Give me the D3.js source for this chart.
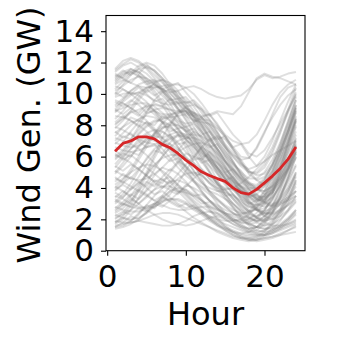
<!DOCTYPE html>
<html>
<head>
<meta charset="utf-8">
<script src="https://cdn.jsdelivr.net/npm/d3@7"></script>
<style>
  body { margin: 0; background: #fff; }
  text { font-family: "DejaVu Sans", sans-serif; fill: #000; }
</style>
</head>
<body>
<div id="chart"></div>
<script>
// Hours of the day (x values)
const hours = d3.range(1, 25);

// Mean profile (red line), GW
const meanGen = [6.35, 6.84, 7.0, 7.26, 7.26, 7.13, 6.78, 6.56, 6.2, 5.78, 5.42, 5.03,
  4.8, 4.6, 4.42, 4.01, 3.7, 3.61, 3.91, 4.33, 4.76, 5.25, 5.84, 6.62];

// Individual daily profiles (gray lines), GW
const dailyGen = [
  [11.5,11.9,12.2,12.0,11.6,11.0,10.4,9.8,9.1,8.4,7.6,6.9,6.1,5.3,4.6,3.9,3.3,3.0,3.2,3.8,4.7,5.8,7.0,8.3],
  [10.8,11.2,11.5,11.4,11.0,10.6,10.3,10.1,10.2,10.4,10.5,10.3,10.0,9.8,9.7,9.8,9.9,10.3,10.9,11.2,11.0,11.1,11.3,11.4],
  [2.0,2.4,3.1,4.0,5.0,6.1,7.2,8.1,8.8,9.2,9.3,9.0,8.4,7.6,6.7,5.7,4.8,4.0,3.4,3.1,3.0,3.1,3.4,3.8],
  [1.6,1.7,1.8,1.9,1.8,1.7,1.6,1.6,1.7,1.9,2.2,2.4,2.5,2.4,2.2,1.9,1.6,1.4,1.5,1.8,2.4,3.3,4.6,6.0],
  [9.0,9.6,10.2,10.6,10.8,10.6,10.1,9.4,8.5,7.6,6.7,5.8,5.0,4.3,3.6,3.0,2.5,2.1,1.9,1.9,2.1,2.6,3.3,4.1],
  [7.2,7.0,6.8,6.5,6.1,5.6,5.0,4.4,3.8,3.3,2.8,2.4,2.0,1.7,1.4,1.2,1.0,0.9,0.9,1.0,1.2,1.4,1.6,1.8],
  [3.5,3.3,3.0,2.8,2.7,2.8,3.1,3.6,4.3,5.1,5.9,6.6,7.1,7.3,7.1,6.5,5.7,4.9,4.5,4.7,5.4,6.5,7.8,9.2],
  [10.2,10.5,10.9,11.1,11.0,10.7,10.2,9.6,9.0,8.6,8.3,8.2,8.1,7.8,7.3,6.6,6.0,5.9,6.6,7.6,8.5,9.3,9.9,10.3],
  [5.5,6.1,6.8,7.5,8.0,8.3,8.3,8.0,7.4,6.6,5.6,4.6,3.7,3.0,2.4,2.0,1.8,1.8,2.1,2.6,3.3,4.2,5.2,6.3],
  [8.1,8.4,8.8,9.0,9.2,9.3,9.2,9.0,8.6,8.0,7.3,6.5,5.8,5.3,4.9,4.5,4.1,3.7,3.3,3.4,3.9,4.7,5.7,6.9],
  [1.8,2.2,2.9,3.8,4.8,5.9,6.8,7.4,7.6,7.4,6.8,6.0,5.1,4.2,3.4,2.7,2.2,1.8,1.5,1.4,1.4,1.5,1.7,2.0],
  [11.0,11.4,11.6,11.4,10.9,10.2,9.5,8.8,8.3,8.1,8.2,8.4,8.3,7.9,7.2,6.4,5.6,5.0,4.9,5.3,6.2,7.5,9.0,10.4],
  [4.2,4.6,5.0,5.3,5.5,5.4,5.1,4.7,4.2,3.7,3.2,2.8,2.5,2.3,2.1,1.9,1.6,1.3,1.1,1.0,1.1,1.3,1.5,1.7],
  [6.3,6.9,7.6,8.2,8.7,9.0,9.1,9.0,8.9,8.8,8.7,8.5,8.0,7.3,6.5,5.7,4.9,4.3,3.9,3.8,4.1,4.6,5.2,5.9],
  [2.8,2.6,2.5,2.5,2.7,3.0,3.5,4.1,4.6,4.9,5.0,4.8,4.4,3.9,3.3,2.8,2.3,2.0,2.0,2.5,3.6,5.1,6.9,8.6],
  [9.8,10.0,10.1,9.9,9.5,8.9,8.2,7.4,6.6,5.8,5.1,4.4,3.8,3.3,2.8,2.4,2.0,1.7,1.5,1.4,1.5,1.7,2.1,2.6],
  [7.8,8.3,8.9,9.6,10.2,10.7,10.9,10.7,10.2,9.4,8.5,7.6,6.8,6.2,5.7,5.2,4.7,4.3,4.2,4.6,5.5,6.7,8.1,9.6],
  [3.1,3.6,4.3,5.1,5.9,6.5,6.8,6.8,6.5,6.0,5.4,4.8,4.3,4.0,3.9,4.0,4.3,4.7,5.2,5.7,6.1,6.4,6.7,7.0],
  [1.5,1.6,1.9,2.3,2.9,3.5,4.0,4.4,4.5,4.3,3.9,3.3,2.7,2.1,1.6,1.2,0.9,0.8,0.7,0.8,0.9,1.1,1.3,1.5],
  [10.5,10.3,10.0,9.6,9.2,8.9,8.7,8.7,8.8,8.9,8.8,8.5,8.0,7.3,6.6,6.1,5.8,5.9,6.5,7.5,8.7,9.8,10.4,10.6],
  [4.9,5.4,6.0,6.6,7.1,7.3,7.2,6.8,6.1,5.3,4.5,3.8,3.2,2.7,2.3,2.0,1.9,2.0,2.4,3.1,4.0,5.1,6.3,7.6],
  [8.6,8.5,8.3,8.0,7.6,7.1,6.5,5.9,5.3,4.8,4.4,4.0,3.6,3.2,2.8,2.4,2.1,1.9,1.9,2.2,2.7,3.4,4.3,5.4],
  [6.0,6.4,7.1,7.9,8.8,9.6,10.1,10.3,10.1,9.6,8.9,8.1,7.3,6.5,5.7,5.0,4.3,3.7,3.3,3.0,2.9,3.0,3.2,3.5],
  [2.3,2.1,2.0,2.1,2.4,2.9,3.4,3.8,4.0,3.9,3.6,3.2,2.9,2.6,2.4,2.3,2.3,2.5,3.0,3.8,4.9,6.2,7.6,9.1],
  [11.6,12.1,12.3,12.1,11.7,11.2,10.7,10.2,9.8,9.3,8.7,8.0,7.3,6.5,5.7,4.9,4.1,3.5,3.2,3.3,3.8,4.6,5.6,6.7],
  [5.1,4.8,4.6,4.5,4.6,4.9,5.3,5.8,6.3,6.6,6.8,6.9,6.7,6.2,5.5,4.7,3.9,3.3,3.1,3.5,4.4,5.6,7.0,8.4],
  [7.5,7.9,8.2,8.3,8.1,7.6,7.0,6.3,5.6,5.0,4.5,4.1,3.8,3.6,3.3,3.0,2.6,2.3,2.2,2.4,2.9,3.6,4.5,5.5],
  [1.9,1.8,1.8,1.9,2.1,2.3,2.4,2.4,2.3,2.1,1.9,1.7,1.5,1.3,1.1,0.9,0.8,0.7,0.7,0.8,0.9,1.0,1.1,1.2],
  [9.3,9.7,10.0,10.1,9.9,9.6,9.4,9.3,9.4,9.5,9.4,9.0,8.3,7.5,6.7,6.0,5.4,5.0,5.0,5.5,6.4,7.6,8.8,10.0],
  [3.8,4.3,5.0,5.8,6.6,7.4,8.1,8.6,8.9,8.9,8.6,8.0,7.2,6.3,5.4,4.5,3.7,3.0,2.6,2.4,2.4,2.6,2.9,3.3],
  [6.6,6.4,6.3,6.4,6.6,6.7,6.7,6.5,6.0,5.4,4.8,4.3,4.0,3.8,3.7,3.5,3.2,2.8,2.6,2.7,3.2,4.1,5.3,6.7],
  [10.9,11.3,11.4,11.2,10.7,10.0,9.3,8.5,7.8,7.1,6.4,5.7,5.0,4.3,3.6,3.0,2.5,2.1,1.9,2.0,2.4,3.0,3.8,4.8],
  [2.5,2.9,3.5,4.2,4.9,5.5,5.9,6.1,6.1,5.9,5.6,5.2,4.8,4.3,3.8,3.3,2.8,2.4,2.1,2.0,2.2,2.7,3.5,4.5],
  [8.4,8.9,9.5,10.0,10.4,10.5,10.3,9.8,9.1,8.3,7.5,6.7,6.0,5.3,4.6,4.0,3.4,2.9,2.6,2.5,2.7,3.2,4.0,5.0],
  [4.6,4.4,4.1,3.8,3.5,3.2,2.9,2.7,2.6,2.6,2.7,2.8,2.8,2.6,2.3,1.9,1.5,1.2,1.1,1.3,1.8,2.6,3.7,5.0],
  [5.8,6.3,6.9,7.4,7.9,8.2,8.4,8.5,8.6,8.7,8.6,8.3,7.7,7.0,6.3,5.6,5.0,4.6,4.6,5.0,5.8,6.9,8.2,9.6],
  [9.6,9.4,9.1,8.7,8.3,7.8,7.2,6.5,5.8,5.1,4.4,3.8,3.2,2.7,2.3,2.0,1.8,1.7,1.8,2.2,2.9,3.9,5.1,6.5],
  [1.7,2.0,2.6,3.4,4.3,5.2,6.0,6.6,7.0,7.2,7.2,7.0,6.5,5.8,5.0,4.1,3.3,2.6,2.1,1.8,1.6,1.6,1.7,1.9],
  [7.0,7.5,8.0,8.4,8.6,8.5,8.2,7.8,7.5,7.4,7.4,7.3,7.0,6.5,5.9,5.2,4.6,4.1,3.9,4.1,4.8,5.9,7.3,8.9],
  [3.3,3.0,2.8,2.7,2.8,3.0,3.2,3.3,3.2,3.0,2.7,2.4,2.1,1.8,1.5,1.3,1.1,1.0,1.0,1.1,1.3,1.6,2.0,2.5],
  [10.0,10.6,11.2,11.6,11.7,11.5,11.0,10.4,9.7,9.1,8.6,8.1,7.6,7.0,6.3,5.6,4.9,4.3,3.9,3.8,4.1,4.8,5.8,7.0],
  [6.9,6.7,6.6,6.7,7.0,7.4,7.8,8.0,8.0,7.7,7.2,6.5,5.7,4.9,4.2,3.6,3.1,2.8,2.8,3.1,3.8,4.8,6.0,7.4],
  [4.0,4.5,5.2,6.0,6.8,7.5,7.9,7.9,7.5,6.8,6.0,5.2,4.6,4.2,4.0,3.9,3.8,3.6,3.4,3.5,4.1,5.2,6.7,8.4],
  [8.9,9.1,9.3,9.4,9.4,9.2,8.8,8.3,7.7,7.1,6.6,6.2,5.9,5.6,5.2,4.7,4.1,3.5,3.0,2.8,2.9,3.3,4.0,4.9],
  [2.1,2.3,2.6,3.0,3.5,3.9,4.1,4.1,3.9,3.5,3.0,2.5,2.0,1.6,1.3,1.0,0.8,0.7,0.6,0.7,0.8,1.0,1.3,1.6],
  [11.2,11.0,10.7,10.5,10.4,10.4,10.5,10.6,10.6,10.4,10.0,9.4,8.7,8.0,7.4,7.0,6.8,6.9,7.4,8.3,9.3,10.1,10.6,10.9],
  [5.3,5.9,6.5,7.1,7.5,7.7,7.6,7.2,6.6,5.9,5.1,4.4,3.8,3.3,2.9,2.6,2.4,2.4,2.7,3.3,4.2,5.3,6.6,8.0],
  [3.0,3.4,4.0,4.7,5.5,6.2,6.8,7.2,7.4,7.3,6.9,6.2,5.4,4.5,3.6,2.8,2.1,1.6,1.3,1.2,1.3,1.6,2.0,2.6],
  [7.9,7.7,7.4,7.1,6.9,6.8,6.9,7.1,7.3,7.3,7.0,6.5,5.9,5.3,4.8,4.4,4.1,3.9,3.9,4.3,5.1,6.3,7.7,9.3],
  [1.4,1.5,1.7,2.0,2.4,2.8,3.1,3.3,3.3,3.1,2.8,2.5,2.2,2.0,1.9,1.9,2.0,2.3,2.8,3.6,4.6,5.9,7.3,8.8],
  [10.3,10.8,11.3,11.8,12.0,11.8,11.3,10.6,9.9,9.2,8.5,7.9,7.2,6.5,5.7,5.0,4.4,4.0,4.0,4.5,5.5,6.8,8.3,9.8],
  [6.1,5.9,5.6,5.2,4.8,4.4,4.1,3.9,3.8,3.7,3.5,3.2,2.8,2.4,2.0,1.7,1.5,1.4,1.5,1.9,2.5,3.4,4.6,6.0],
  [10.6,10.9,10.7,11.2,10.8,10.9,10.3,10.5,9.9,9.4,9.6,9.1,8.6,8.8,8.1,7.4,6.9,6.2,6.0,6.4,7.2,8.1,9.0,9.9],
  [8.8,9.4,9.1,9.8,10.3,9.9,10.2,9.7,9.0,8.9,8.2,7.4,7.6,6.8,6.1,5.5,5.1,4.4,4.0,3.6,3.9,4.5,5.4,6.6],
  [5.9,6.2,6.0,6.7,7.2,7.0,7.6,7.3,6.8,6.9,6.2,5.6,5.8,5.1,4.5,4.7,4.0,3.4,3.6,3.2,3.7,4.6,5.8,7.1],
  [3.7,3.4,3.9,4.4,4.1,4.8,5.3,5.1,5.7,5.4,4.9,5.1,4.6,4.0,3.5,3.6,3.0,2.5,2.7,2.2,2.6,3.5,4.8,6.4],
  [11.1,11.5,11.2,11.6,11.3,10.8,10.9,10.3,9.7,9.8,9.2,8.5,8.7,8.1,7.3,6.6,6.8,6.0,5.4,5.7,6.6,7.8,8.9,10.1],
  [9.5,9.2,9.6,9.3,8.8,8.9,8.4,8.6,8.1,7.6,7.8,7.2,6.6,6.8,6.1,5.4,4.8,4.2,3.6,3.1,2.8,2.9,3.3,3.8],
  [2.6,3.0,2.8,3.3,3.9,4.5,4.3,5.0,5.6,6.2,6.0,6.6,6.3,5.7,5.0,5.2,4.6,3.9,3.3,3.5,4.3,5.4,6.8,8.2],
  [7.6,7.2,7.5,7.0,6.6,6.8,6.2,5.7,5.9,5.3,4.8,4.9,4.3,3.8,3.9,3.4,2.9,2.5,2.6,2.3,2.5,3.0,3.8,4.7],
  [10.1,9.8,10.2,10.5,10.1,10.4,9.9,9.4,9.5,8.9,8.3,8.5,7.8,7.1,7.3,6.5,5.8,5.1,4.5,4.2,4.6,5.5,6.9,8.5],
  [4.4,4.9,4.6,5.2,5.8,6.4,6.2,6.9,7.4,7.1,7.6,7.3,6.7,6.0,5.3,4.6,3.9,3.2,2.6,2.2,2.0,2.2,2.6,3.2],
  [6.8,7.3,7.1,7.7,8.2,8.0,8.6,8.3,7.8,7.9,7.3,6.7,6.0,5.3,4.6,4.0,3.5,3.0,2.9,3.2,3.9,5.0,6.3,7.9],
  [1.8,2.1,1.9,2.4,2.9,2.7,3.3,3.8,3.6,4.2,4.0,3.7,3.2,2.8,2.4,2.1,1.7,1.4,1.2,1.3,1.6,2.2,3.1,4.3],
  [9.0,8.7,9.1,8.8,9.3,9.0,8.5,8.7,8.2,7.9,8.1,7.6,7.0,7.2,6.6,6.0,5.5,5.2,5.4,6.0,7.0,8.3,9.5,10.6],
  [5.4,5.1,5.5,5.2,4.8,4.4,4.6,4.1,3.7,3.9,3.4,3.0,3.1,2.7,2.4,2.2,2.0,1.7,1.5,1.6,1.9,2.5,3.3,4.4],
  [7.3,7.9,8.5,8.3,8.9,9.4,9.2,9.7,9.4,8.9,8.3,7.6,6.8,6.0,5.3,4.6,4.1,3.6,3.3,3.1,3.4,4.1,5.1,6.2],
  [3.2,2.9,3.3,3.0,3.4,3.9,4.5,4.3,4.9,5.5,6.0,5.8,6.3,5.9,5.2,4.4,3.7,3.1,2.7,2.9,3.6,4.9,6.5,8.3],
  [11.3,11.0,11.4,11.1,10.6,10.8,10.2,9.6,9.7,9.1,8.5,7.8,7.1,6.4,5.7,5.1,4.6,4.2,4.1,4.5,5.3,6.5,7.9,9.3],
  [8.2,8.6,8.3,7.9,8.2,7.7,7.2,7.4,6.9,6.3,5.8,5.9,5.4,4.9,4.4,3.9,3.5,3.1,2.9,3.0,3.4,4.2,5.2,6.3],
  [2.2,2.5,2.3,2.7,2.5,2.9,3.4,3.2,3.7,4.1,4.6,5.0,4.8,4.4,3.9,3.3,2.7,2.2,1.8,1.6,1.7,2.0,2.5,3.1],
  [6.4,6.0,6.5,6.9,7.4,7.2,7.8,8.2,8.0,7.6,7.1,6.4,5.7,5.1,4.6,4.1,3.8,3.6,3.8,4.3,5.1,6.2,7.5,9.0],
  [10.7,11.1,11.6,11.3,11.8,11.5,11.0,10.5,10.7,10.1,9.5,8.8,8.1,7.5,6.8,6.2,5.6,5.1,4.8,4.9,5.5,6.4,7.6,8.9],
  [4.7,4.3,4.7,4.4,4.0,3.6,3.8,3.4,3.0,2.7,2.9,2.5,2.2,1.9,1.7,1.5,1.3,1.1,1.0,1.0,1.2,1.5,1.9,2.4],
  [8.0,8.5,8.9,8.6,9.1,8.7,8.2,7.6,7.8,7.2,6.6,6.0,6.1,5.5,5.0,4.4,3.8,3.2,2.7,2.4,2.3,2.5,2.9,3.5],
  [5.0,5.6,6.3,6.1,6.8,7.5,8.2,8.0,8.7,9.1,8.8,8.3,7.6,6.8,6.0,5.2,4.5,3.9,3.5,3.4,3.7,4.4,5.4,6.7],
  [9.9,10.3,10.0,10.4,10.0,9.5,9.7,9.1,8.5,7.8,7.1,6.4,5.8,5.2,4.7,4.2,3.8,3.4,3.2,3.3,3.7,4.4,5.3,6.4],
  [3.9,4.2,3.9,4.3,4.8,5.4,6.0,6.6,6.4,7.0,6.8,6.3,5.7,5.0,4.3,3.6,3.0,2.5,2.1,1.9,2.0,2.4,3.0,3.8],
  [6.2,5.8,6.1,5.7,5.3,4.9,4.5,4.7,4.2,3.8,3.5,3.6,3.2,2.9,2.6,2.4,2.2,2.1,2.2,2.6,3.3,4.3,5.6,7.2],
  [11.4,11.8,12.0,11.7,11.9,11.4,10.8,10.1,9.4,8.6,7.9,7.1,6.3,5.6,4.9,4.3,3.8,3.5,3.6,4.1,5.0,6.2,7.6,9.1],
  [1.5,1.8,2.2,2.0,2.5,3.0,2.8,3.2,2.9,2.5,2.1,1.8,1.5,1.2,1.0,0.8,0.7,0.6,0.7,0.9,1.1,1.4,1.8,2.3],
  [2.7,3.1,3.6,3.3,3.8,4.3,4.0,4.5,4.1,3.6,3.1,2.6,2.1,1.7,1.3,1.0,0.8,0.8,0.9,1.2,1.7,2.4,3.3,4.5],
  [3.4,3.8,3.5,3.9,3.6,3.2,3.5,3.1,2.8,3.0,2.6,2.3,1.9,1.6,1.4,1.2,1.1,1.2,1.5,2.0,2.8,3.9,5.2,6.8],
  [9.2,9.5,9.9,10.1,10.4,10.6,10.3,10.0,9.6,9.1,8.8,8.6,8.7,8.9,8.8,8.7,9.2,10.1,11.0,11.3,11.1,11.0,10.8,10.6],
  [2.4,2.7,3.2,3.8,4.4,4.1,4.7,5.2,4.9,4.4,3.8,3.2,2.6,2.0,1.5,1.1,0.9,0.7,0.8,1.0,1.4,1.9,2.6,3.5],
  [4.1,3.8,3.4,3.0,2.6,2.3,2.0,1.8,1.7,1.6,1.7,1.9,2.1,2.2,2.0,1.7,1.4,1.2,1.3,1.7,2.4,3.4,4.7,6.2]
];

const xTicks = [0, 10, 20];
const yTicks = [0, 2, 4, 6, 8, 10, 12, 14];

const width = 340, height = 346;
const plot = { left: 106, right: 305, top: 15.5, bottom: 250.7 };

const x = d3.scaleLinear().domain([-0.15, 25.15]).range([plot.left, plot.right]);
const y = d3.scaleLinear().domain([0, 15]).range([plot.bottom, plot.top]);

const svg = d3.select("#chart").append("svg")
  .attr("width", width)
  .attr("height", height);

const line = d3.line()
  .x((d, i) => x(hours[i]))
  .y(d => y(d));

// gray daily lines
svg.append("g")
  .selectAll("path")
  .data(dailyGen)
  .enter()
  .append("path")
  .attr("d", line)
  .attr("fill", "none")
  .attr("stroke", "#808080")
  .attr("stroke-opacity", 0.25)
  .attr("stroke-width", 1.9)
  .attr("stroke-linejoin", "round");

// mean line
svg.append("path")
  .datum(meanGen)
  .attr("d", line)
  .attr("fill", "none")
  .attr("stroke", "#d62728")
  .attr("stroke-width", 2.8)
  .attr("stroke-linejoin", "round");

// axes
const xAxis = svg.append("g")
  .attr("transform", `translate(0,${plot.bottom})`)
  .call(d3.axisBottom(x).tickValues(xTicks).tickSize(5).tickPadding(9).tickSizeOuter(0));
const yAxis = svg.append("g")
  .attr("transform", `translate(${plot.left},0)`)
  .call(d3.axisLeft(y).tickValues(yTicks).tickSize(5).tickPadding(7).tickSizeOuter(0));

[xAxis, yAxis].forEach(a => {
  a.select(".domain").remove();
  a.selectAll("line").attr("stroke", "#000").attr("stroke-width", 1.1);
  a.selectAll("text")
    .style("font-family", "'DejaVu Sans', sans-serif")
    .style("font-size", "31px")
    .attr("fill", "#000");
});

// frame
svg.append("rect")
  .attr("x", plot.left)
  .attr("y", plot.top)
  .attr("width", plot.right - plot.left)
  .attr("height", plot.bottom - plot.top)
  .attr("fill", "none")
  .attr("stroke", "#000")
  .attr("stroke-width", 1.1);

// labels
svg.append("text")
  .attr("x", (plot.left + plot.right) / 2)
  .attr("y", 325)
  .attr("text-anchor", "middle")
  .style("font-size", "32px")
  .text("Hour");

svg.append("text")
  .attr("transform", `translate(40,135) rotate(-90)`)
  .attr("text-anchor", "middle")
  .style("font-size", "32px")
  .text("Wind Gen. (GW)");
</script>
</body>
</html>
